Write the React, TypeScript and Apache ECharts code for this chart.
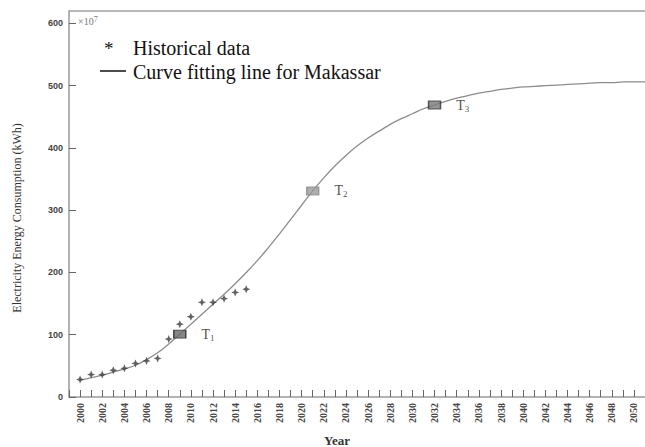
import React, { useEffect, useRef } from "react";
import * as echarts from "echarts";

const histYears = [2000, 2001, 2002, 2003, 2004, 2005, 2006, 2007, 2008, 2009, 2010, 2011, 2012, 2013, 2014, 2015];
const histValues = [28, 36, 36, 43, 46, 54, 58, 62, 93, 117, 129, 152, 152, 158, 168, 173];

const curveYears = [
  2000, 2001, 2002, 2003, 2004, 2005, 2006, 2007, 2008, 2009,
  2010, 2011, 2012, 2013, 2014, 2015, 2016, 2017, 2018, 2019,
  2020, 2021, 2022, 2023, 2024, 2025, 2026, 2027, 2028, 2029,
  2030, 2031, 2032, 2033, 2034, 2035, 2036, 2037, 2038, 2039,
  2040, 2041, 2042, 2043, 2044, 2045, 2046, 2047, 2048, 2049, 2050, 2051,
];
const curveValues = [
  27, 31, 35, 40, 45, 51, 60, 71, 85, 101,
  117, 133, 149, 165, 182, 200, 219, 240, 262, 285,
  308, 331, 352, 371, 388, 403, 416, 427, 438, 447,
  455, 463, 469, 475, 480, 484, 488, 491, 494, 496,
  498, 499, 500, 501, 502, 503, 504, 505, 505, 506, 506, 506,
];

const tNames = ["1", "2", "3"];
const tYears = [2009, 2021, 2032];
const tValues = [101, 331, 469];
const tFill = ["#6a6a6a", "#9a9a9a", "#7a7a7a"];
const tBorder = ["#222", "#888", "#333"];

const yTicks = [0, 100, 200, 300, 400, 500, 600];

export default function App() {
  const ref = useRef<HTMLDivElement>(null);
  useEffect(() => {
    if (!ref.current) return;
    const chart = echarts.init(ref.current, null, { renderer: "svg" });
    const serif = "Liberation Serif";
    chart.setOption({
      animation: false,
      backgroundColor: "#fff",
      grid: {
        left: 69,
        top: 11,
        right: -3,
        bottom: 50,
        show: false,
        containLabel: false,
      },
      xAxis: {
        type: "value",
        min: 1999,
        max: 2051,
        interval: 1,
        axisLine: { show: true, lineStyle: { color: "#999", width: 1.5 } },
        axisTick: { show: true, inside: true, length: 7, lineStyle: { color: "#666", width: 1 } },
        splitLine: { show: false },
        axisLabel: {
          rotate: 90,
          margin: 6,
          fontSize: 10,
          fontWeight: "bold",
          fontFamily: serif,
          color: "#444",
          formatter: (v: number) => (v % 2 === 0 && v >= 2000 && v <= 2050 ? String(v) : ""),
        },
      },
      yAxis: {
        type: "value",
        min: 0,
        max: 620,
        interval: 100,
        axisLine: { show: true, lineStyle: { color: "#999", width: 1.5 } },
        axisTick: { show: true, inside: true, length: 7, lineStyle: { color: "#666", width: 1 } },
        splitLine: { show: false },
        axisLabel: {
          margin: 6,
          fontSize: 9,
          fontWeight: "bold",
          fontFamily: "Liberation Sans",
          color: "#444",
          showMaxLabel: false,
          formatter: (v: number) => (yTicks.indexOf(v) >= 0 ? String(v) : ""),
        },
      },
      series: [
        {
          type: "line",
          name: "Curve fitting line for Makassar",
          data: curveYears.map((y, i) => [y, curveValues[i]]),
          smooth: 0.4,
          showSymbol: false,
          symbol: "none",
          lineStyle: { color: "#8c8c8c", width: 1.3 },
          z: 2,
        },
        {
          type: "scatter",
          name: "Historical data",
          data: histYears.map((y, i) => [y, histValues[i]]),
          symbol:
            "path://M0,-10 L3,-3 L10,0 L3,3 L0,10 L-3,3 L-10,0 L-3,-3 Z",
          symbolSize: 8,
          itemStyle: { color: "#3a3a3a" },
          z: 3,
        },
        {
          type: "scatter",
          name: "T",
          data: tYears.map((y, i) => ({
            value: [y, tValues[i]],
            itemStyle: { color: tFill[i], borderColor: tBorder[i], borderWidth: 1.2 },
            label: { formatter: "{t|T}{s|" + tNames[i] + "}" },
          })),
          symbol: "rect",
          symbolSize: [12, 8],
          z: 4,
          label: {
            show: true,
            position: "right",
            distance: 15,
            color: "#222",
            textBorderWidth: 0,
            rich: {
              t: { fontSize: 14, fontFamily: serif, color: "#222", textBorderWidth: 0 },
              s: { fontSize: 9, fontFamily: serif, color: "#222", textBorderWidth: 0, padding: [7, 0, 0, 0] },
            },
          },
        },
      ],
      graphic: [
        {
          type: "line",
          shape: { x1: 69, y1: 11, x2: 645, y2: 11 },
          style: { stroke: "#a0a0a0", lineWidth: 1.5 },
        },
        {
          type: "text",
          x: 78,
          y: 13,
          style: {
            text: "{a|×10}{b|7}",
            rich: {
              a: { fontSize: 10, fontFamily: serif, fill: "#777", padding: [3, 0, 0, 0] },
              b: { fontSize: 8, fontFamily: serif, fill: "#777" },
            },
          },
        },
        {
          type: "text",
          x: 104,
          y: 39,
          style: { text: "*", font: "19px 'Liberation Serif'", fill: "#111" },
        },
        {
          type: "text",
          x: 133,
          y: 38,
          style: { text: "Historical data", font: "20px 'Liberation Serif'", fill: "#111" },
        },
        {
          type: "line",
          shape: { x1: 100, y1: 71, x2: 126, y2: 71 },
          style: { stroke: "#111", lineWidth: 1.5 },
        },
        {
          type: "text",
          x: 133,
          y: 62,
          style: { text: "Curve fitting line for Makassar", font: "20px 'Liberation Serif'", fill: "#111" },
        },
        {
          type: "text",
          x: 17,
          y: 218,
          rotation: Math.PI / 2,
          style: {
            text: "Electricity Energy Consumption (kWh)",
            font: "12px 'Liberation Serif'",
            fill: "#333",
            align: "center",
            verticalAlign: "middle",
          },
        },
        {
          type: "text",
          x: 337,
          y: 440,
          style: {
            text: "Year",
            font: "bold 13px 'Liberation Serif'",
            fill: "#333",
            align: "center",
            verticalAlign: "middle",
          },
        },
      ],
    });
    return () => chart.dispose();
  }, []);
  return (
    <div
      ref={ref}
      style={{ position: "fixed", left: 0, top: 0, width: 645, height: 447, background: "#fff" }}
    />
  );
}
